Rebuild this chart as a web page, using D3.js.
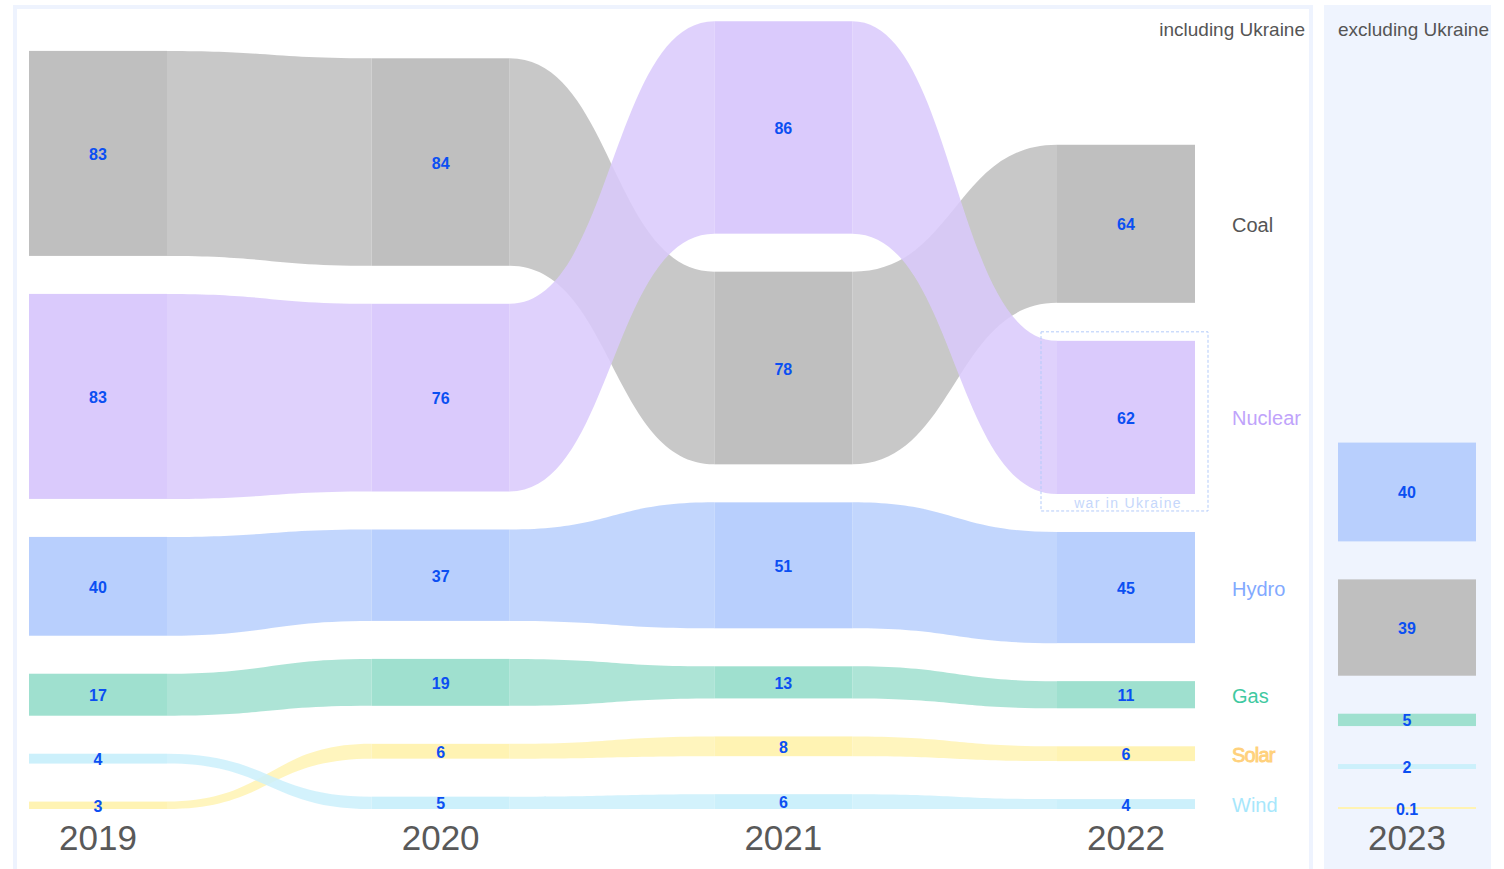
<!DOCTYPE html>
<html>
<head>
<meta charset="utf-8">
<script src="https://cdn.jsdelivr.net/npm/d3@7"></script>
<style>
  html, body { margin: 0; padding: 0; background: #ffffff; }
  svg { display: block; font-family: "Liberation Sans", Arial, Helvetica, sans-serif; }
</style>
</head>
<body>
<svg id="chart" width="1504" height="869"></svg>
<script>
// ---- data ----
const years = ["2019", "2020", "2021", "2022"];
const categories = ["Coal", "Nuclear", "Hydro", "Gas", "Solar", "Wind"];
const coal    = [83, 84, 78, 64];
const nuclear = [83, 76, 86, 62];
const hydro   = [40, 37, 51, 45];
const gas     = [17, 19, 13, 11];
const solar   = [3, 6, 8, 6];
const wind    = [4, 5, 6, 4];
const year2023 = "2023";
const categories2023 = ["Hydro", "Coal", "Gas", "Wind", "Solar"];
const values2023 = [40, 39, 5, 2, 0.1];
const panelTitleLeft = "including Ukraine";
const panelTitleRight = "excluding Ukraine";
const annotationText = "war in Ukraine";

// ---- styles ----
const nodeColor = { Coal: "#bfbfbf", Nuclear: "#dacafc", Hydro: "#b8cffd", Gas: "#9fe0cf", Solar: "#fff3b3", Wind: "#ccf0fb" };
const labelColor = { Coal: "#555555", Nuclear: "#c0a3fb", Hydro: "#82a9ff", Gas: "#3fc9a1", Solar: "#ffd17c", Wind: "#a7e7fc" };
const valueColor = "#0b4ff2";
const seriesByCat = { Coal: coal, Nuclear: nuclear, Hydro: hydro, Gas: gas, Solar: solar, Wind: wind };

const svg = d3.select("#chart");
const nodeW = 138;
const bottomY = 809;
const pad = 38;
const h = d3.scaleLinear().domain([0, 100]).range([0, 247]);
const x = d3.scalePoint().domain(years).range([29, 1057]);

// panels
svg.append("rect").attr("x", 15).attr("y", 7).attr("width", 1296).attr("height", 900)
  .attr("fill", "#ffffff").attr("stroke", "#eef3fe").attr("stroke-width", 4);
svg.append("rect").attr("x", 1324).attr("y", 5).attr("width", 167).attr("height", 900)
  .attr("fill", "#eff4fe");

// layout: stack per column, sorted descending, bottom aligned
function layoutColumn(cats, vals) {
  const items = cats.map((c, i) => ({ cat: c, value: vals[i], idx: i }));
  const sorted = items.slice().sort((a, b) => (a.value - b.value) || (b.idx - a.idx)); // smallest at bottom
  let yb = bottomY;
  sorted.forEach(d => {
    const hh = Math.max(h(d.value), 2);
    d.y1 = yb; d.y0 = yb - hh;
    yb = d.y0 - pad;
  });
  const m = {}; items.forEach(d => m[d.cat] = d);
  return m;
}
const columns = years.map((yr, j) => {
  const m = layoutColumn(categories, categories.map(c => seriesByCat[c][j]));
  Object.values(m).forEach(d => { d.x0 = x(yr); d.x1 = x(yr) + nodeW; d.year = yr; });
  return m;
});

// links
const gLinks = svg.append("g");
categories.forEach(cat => {
  for (let j = 0; j < years.length - 1; j++) {
    const s = columns[j][cat], t = columns[j + 1][cat];
    const xa = s.x1, xb = t.x0, xm = (xa + xb) / 2;
    const p = d3.path();
    p.moveTo(xa, s.y0);
    p.bezierCurveTo(xm, s.y0, xm, t.y0, xb, t.y0);
    p.lineTo(xb, t.y1);
    p.bezierCurveTo(xm, t.y1, xm, s.y1, xa, s.y1);
    p.closePath();
    gLinks.append("path").attr("d", p.toString())
      .attr("fill", nodeColor[cat]).attr("fill-opacity", 0.86);
  }
});

// nodes
const gNodes = svg.append("g");
columns.forEach(col => {
  categories.forEach(cat => {
    const d = col[cat];
    gNodes.append("rect").attr("x", d.x0).attr("y", d.y0)
      .attr("width", nodeW).attr("height", d.y1 - d.y0).attr("fill", nodeColor[cat]);
    gNodes.append("text").attr("x", d.x0 + nodeW / 2).attr("y", (d.y0 + d.y1) / 2 + 1)
      .attr("text-anchor", "middle").attr("dominant-baseline", "central")
      .attr("font-size", 16).attr("font-weight", "bold").attr("fill", valueColor)
      .text(d.value);
  });
});

// year labels
years.forEach(yr => {
  svg.append("text").attr("x", x(yr) + nodeW / 2).attr("y", 850)
    .attr("text-anchor", "middle").attr("font-size", 35).attr("fill", "#595959").text(yr);
});

// category labels
const last = columns[columns.length - 1];
categories.forEach(cat => {
  const d = last[cat];
  const t = svg.append("text").attr("x", 1232).attr("y", (d.y0 + d.y1) / 2 + 1)
    .attr("dominant-baseline", "central").attr("font-size", 20)
    .attr("fill", labelColor[cat]).text(cat);
  if (cat === "Solar") t.attr("stroke", labelColor[cat]).attr("stroke-width", 0.9).attr("letter-spacing", -0.8);
});

// annotation box around 2022 nuclear
const nuc = last["Nuclear"];
svg.append("rect").attr("x", nuc.x0 - 16).attr("y", nuc.y0 - 9)
  .attr("width", nodeW + 29).attr("height", (nuc.y1 - nuc.y0) + 26)
  .attr("fill", "none").attr("stroke", "#b3cbfa").attr("stroke-width", 1)
  .attr("stroke-dasharray", "3,2");
svg.append("text").attr("x", nuc.x0 + nodeW / 2 + 2).attr("y", nuc.y1 + 9)
  .attr("text-anchor", "middle").attr("dominant-baseline", "central")
  .attr("font-size", 14).attr("letter-spacing", 1.3).attr("fill", "#c6d7fb").text(annotationText);

// 2023 panel
const x23 = 1338;
const col23 = layoutColumn(categories2023, values2023);
categories2023.forEach(cat => {
  const d = col23[cat];
  svg.append("rect").attr("x", x23).attr("y", d.y0).attr("width", nodeW)
    .attr("height", d.y1 - d.y0).attr("fill", nodeColor[cat]);
  svg.append("text").attr("x", x23 + nodeW / 2).attr("y", (d.y0 + d.y1) / 2 + 1)
    .attr("text-anchor", "middle").attr("dominant-baseline", "central")
    .attr("font-size", 16).attr("font-weight", "bold").attr("fill", valueColor)
    .text(d.value);
});
svg.append("text").attr("x", x23 + nodeW / 2).attr("y", 850)
  .attr("text-anchor", "middle").attr("font-size", 35).attr("fill", "#595959").text(year2023);

// panel titles
svg.append("text").attr("x", 1305).attr("y", 36).attr("text-anchor", "end")
  .attr("font-size", 19).attr("fill", "#555555").text(panelTitleLeft);
svg.append("text").attr("x", 1489).attr("y", 36).attr("text-anchor", "end")
  .attr("font-size", 19).attr("fill", "#555555").text(panelTitleRight);
</script>
</body>
</html>
